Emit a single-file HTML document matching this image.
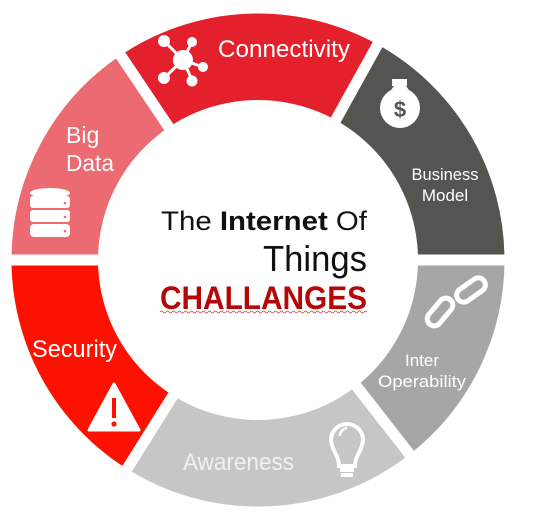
<!DOCTYPE html>
<html><head><meta charset="utf-8"><style>
html,body{margin:0;padding:0;background:#fff;width:543px;height:525px;overflow:hidden}
svg{display:block}
text{font-family:"Liberation Sans",sans-serif}
</style></head><body>
<svg width="543" height="525" viewBox="0 0 543 525">
<g fill="none" stroke-width="87">
<circle cx="258" cy="260" r="203" pathLength="360" stroke="#545451" stroke-dasharray="61 299" stroke-dashoffset="-299"/>
<circle cx="258" cy="260" r="203" pathLength="360" stroke="#a6a6a6" stroke-dasharray="52 308" stroke-dashoffset="0"/>
<circle cx="258" cy="260" r="203" pathLength="360" stroke="#c6c6c6" stroke-dasharray="70 290" stroke-dashoffset="-52"/>
<circle cx="258" cy="260" r="203" pathLength="360" stroke="#fe1100" stroke-dasharray="58 302" stroke-dashoffset="-122"/>
<circle cx="258" cy="260" r="203" pathLength="360" stroke="#ec6a72" stroke-dasharray="56 304" stroke-dashoffset="-180"/>
<circle cx="258" cy="260" r="203" pathLength="360" stroke="#e3202c" stroke-dasharray="63 297" stroke-dashoffset="-236"/>
</g>
<g stroke="#fff" stroke-width="11">
<line x1="258" y1="260" x2="530" y2="260"/>
<line x1="258" y1="260" x2="418" y2="465"/>
<line x1="258" y1="260" x2="120" y2="480"/>
<line x1="258" y1="260" x2="-10" y2="260"/>
<line x1="258" y1="260" x2="113" y2="44"/>
<line x1="258" y1="260" x2="384" y2="33"/>
</g>
<circle cx="258" cy="260" r="160" fill="#fff"/>

<g fill="#fff" stroke="#fff" stroke-width="3">
<line x1="183" y1="60" x2="164" y2="41"/><line x1="183" y1="60" x2="192" y2="42"/>
<line x1="183" y1="60" x2="203" y2="67"/><line x1="183" y1="60" x2="192" y2="80"/>
<line x1="183" y1="60" x2="164" y2="78"/>
<circle cx="183" cy="60" r="10" stroke="none"/>
<circle cx="164" cy="41" r="6" stroke="none"/><circle cx="192" cy="42" r="5" stroke="none"/>
<circle cx="203" cy="67" r="5" stroke="none"/><circle cx="192" cy="81" r="5.5" stroke="none"/>
<circle cx="164" cy="78" r="6" stroke="none"/>
</g>
<text x="218" y="57" font-size="24" fill="#fff" textLength="132" lengthAdjust="spacingAndGlyphs">Connectivity</text>

<text x="66" y="143" font-size="23" fill="#fff">Big</text>
<text x="66" y="171" font-size="23" fill="#fff" textLength="48" lengthAdjust="spacingAndGlyphs">Data</text>
<g fill="#fff">
<ellipse cx="50" cy="193" rx="20" ry="5"/>
<rect x="30" y="196" width="40" height="12" rx="3"/>
<rect x="30" y="210" width="40" height="12" rx="3"/>
<rect x="30" y="224" width="40" height="13" rx="4"/>
</g>
<g fill="#ec6a72"><circle cx="65" cy="203" r="1.3"/><circle cx="65" cy="217" r="1.3"/><circle cx="65" cy="231" r="1.3"/></g>

<g fill="#fff">
<circle cx="400" cy="108" r="20"/>
<rect x="392" y="79" width="15" height="7"/>
<path d="M394 86 L406 86 L412 94 L388 94 Z"/>
</g>
<text x="400" y="117" font-size="22" font-weight="bold" fill="#545451" text-anchor="middle">$</text>
<text x="445" y="180" font-size="17" fill="#fff" text-anchor="middle" textLength="67" lengthAdjust="spacingAndGlyphs">Business</text>
<text x="445" y="201" font-size="17" fill="#fff" text-anchor="middle">Model</text>

<g fill="none" stroke="#fff" stroke-width="5">
<rect x="455" y="283" width="32" height="14" rx="7" transform="rotate(-35 471 290)"/>
<rect x="424" y="305" width="32" height="14" rx="7" transform="rotate(-50 440 312)"/>
</g>
<text x="422" y="366" font-size="17" fill="#fff" text-anchor="middle">Inter</text>
<text x="422" y="387" font-size="17" fill="#fff" text-anchor="middle" textLength="88" lengthAdjust="spacingAndGlyphs">Operability</text>

<text x="183" y="470" font-size="24" fill="#f0f0f0" textLength="111" lengthAdjust="spacingAndGlyphs">Awareness</text>
<g fill="none" stroke="#fff" stroke-width="4">
<path d="M339 466 C339 455 332 452 331 440 A16 16 0 1 1 363 440 C362 452 355 455 355 466 Z"/>
<path d="M340 470 H354 M341 475 H353"/>
<path d="M340 436 A8 8 0 0 1 347 428" stroke-width="2.5"/>
</g>

<text x="32" y="357" font-size="24" fill="#fff" textLength="85" lengthAdjust="spacingAndGlyphs">Security</text>
<path d="M114 384 L139 430 L89 430 Z" fill="#fff" stroke="#fff" stroke-width="3" stroke-linejoin="round"/>
<rect x="112" y="398" width="4" height="20" fill="#fe1100"/>
<circle cx="114" cy="424" r="2.6" fill="#fe1100"/>

<text x="367" y="230" font-size="27" fill="#111" text-anchor="end" textLength="206" lengthAdjust="spacingAndGlyphs">The <tspan font-weight="bold">Internet</tspan> Of</text>
<text x="367" y="271" font-size="36" fill="#111" text-anchor="end" textLength="104" lengthAdjust="spacingAndGlyphs">Things</text>
<text x="367" y="309" font-size="32" font-weight="bold" fill="#b50707" text-anchor="end" textLength="207" lengthAdjust="spacingAndGlyphs">CHALLANGES</text>
<path d="M160 312 q1.5 -2 3 0 t3 0 t3 0 t3 0 t3 0 t3 0 t3 0 t3 0 t3 0 t3 0 t3 0 t3 0 t3 0 t3 0 t3 0 t3 0 t3 0 t3 0 t3 0 t3 0 t3 0 t3 0 t3 0 t3 0 t3 0 t3 0 t3 0 t3 0 t3 0 t3 0 t3 0 t3 0 t3 0 t3 0 t3 0 t3 0 t3 0 t3 0 t3 0 t3 0 t3 0 t3 0 t3 0 t3 0 t3 0 t3 0 t3 0 t3 0 t3 0 t3 0 t3 0 t3 0 t3 0 t3 0 t3 0 t3 0 t3 0 t3 0 t3 0 t3 0 t3 0 t3 0 t3 0 t3 0 t3 0 t3 0 t3 0 t3 0 t3 0" fill="none" stroke="#e33" stroke-width="0.8"/>
</svg>
</body></html>
